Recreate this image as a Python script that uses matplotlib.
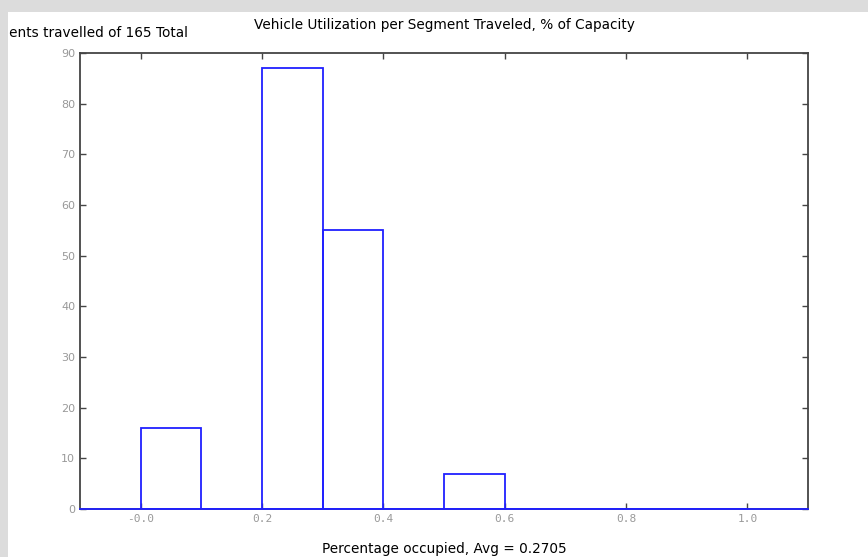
import matplotlib.pyplot as plt
from matplotlib.patches import Rectangle

# histogram bins (left edges) and counts
bin_left = [0.0, 0.1, 0.2, 0.3, 0.4, 0.5, 0.6, 0.7, 0.8, 0.9]
counts = [16, 0, 87, 55, 0, 7, 0, 0, 0, 0]
xticks = [0.0, 0.2, 0.4, 0.6, 0.8, 1.0]
xtick_labels = ["-0.0", "0.2", "0.4", "0.6", "0.8", "1.0"]
yticks = [0, 10, 20, 30, 40, 50, 60, 70, 80, 90]

W, H = 868, 557
fig = plt.figure(figsize=(W / 100, H / 100), dpi=100)
fig.patch.set_facecolor("#dcdcdc")
fig.patches.append(Rectangle((8 / W, 0), 1 - 8 / W, 1 - 12 / H,
                             transform=fig.transFigure, facecolor="white",
                             edgecolor="none", zorder=-1))

ax = fig.add_axes([80 / W, 1 - 509 / H, (808 - 80) / W, (509 - 53) / H])
ax.set_zorder(2)
ax.bar(bin_left, counts, width=0.1, align="edge", fill=False,
       edgecolor="#2020ff", linewidth=1.3, zorder=3)
ax.plot([-0.1, 1.1], [0, 0], color="#2020ff", linewidth=1.3, zorder=3, clip_on=False)

ax.set_xlim(-0.1, 1.1)
ax.set_ylim(0, 90)
ax.set_xticks(xticks)
ax.set_xticklabels(xtick_labels, family="DejaVu Sans Mono")
ax.set_yticks(yticks)
ax.tick_params(direction="in", top=True, right=True, length=4, width=1,
               labelsize=8, labelcolor="#999999", color="#444444")
for s in ax.spines.values():
    s.set_color("#444444")
    s.set_linewidth(1.3)

fig.text(444 / W, 1 - 25 / H, "Vehicle Utilization per Segment Traveled, % of Capacity",
         ha="center", va="center", fontsize=9.8, zorder=3)
fig.text(188 / W, 1 - 33 / H, "Segments travelled of 165 Total",
         ha="right", va="center", fontsize=9.8, zorder=3)
fig.text(444 / W, 1 - 549 / H, "Percentage occupied, Avg = 0.2705",
         ha="center", va="center", fontsize=9.8, zorder=3)

# gray frame strip on the left covers the clipped start of the y label
fig.patches.append(Rectangle((0, 0), 8 / W, 1, transform=fig.transFigure,
                             facecolor="#dcdcdc", edgecolor="none", zorder=10))

fig.savefig("out.png", dpi=100, facecolor=fig.get_facecolor())
